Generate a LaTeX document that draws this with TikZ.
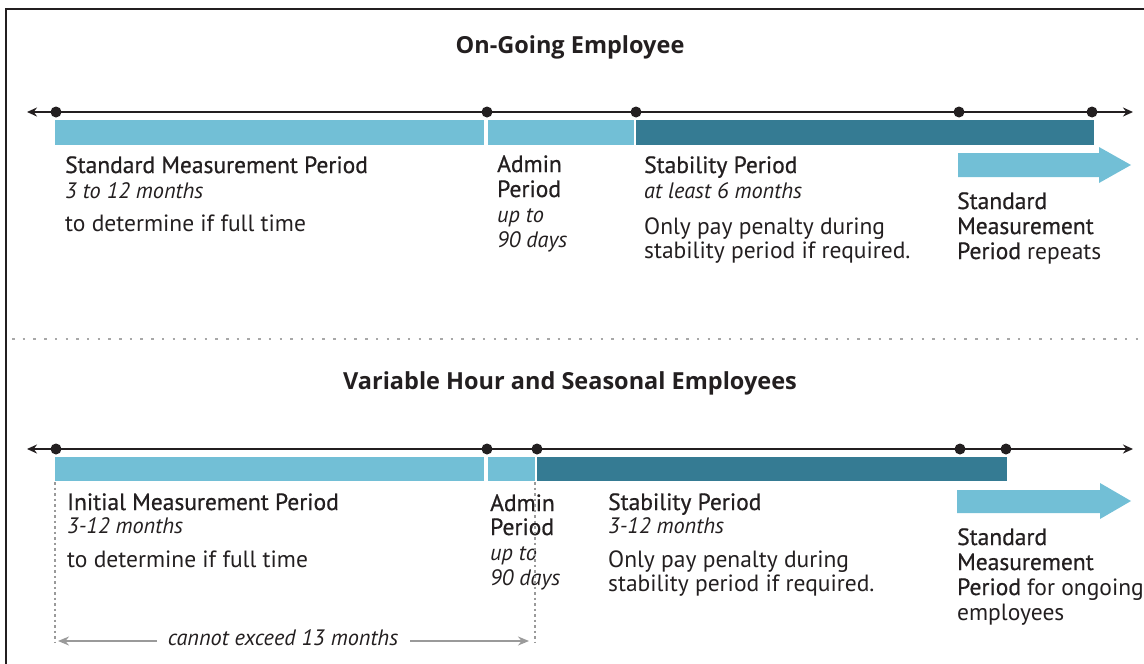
\documentclass[tikz,border=0pt]{standalone}
\usepackage{fontspec}
\setmainfont{PT Sans}
\newfontfamily\titlefont{Open Sans}
\newfontfamily\semib[FakeBold=0.7]{PT Sans}
\usetikzlibrary{arrows.meta}
\definecolor{lightbar}{HTML}{72BFD6}
\definecolor{darkbar}{HTML}{357B93}
\definecolor{ink}{HTML}{231F20}
\definecolor{greyline}{HTML}{9A9A9A}
\definecolor{dotgrey}{HTML}{A8A8A8}
\begin{document}
\begin{tikzpicture}[x=1pt,y=-1pt,
  lbl/.style={anchor=base west, inner sep=0pt, font=\fontsize{23.5}{28}\selectfont, text=ink},
  hlbl/.style={lbl, font=\semib\fontsize{23.5}{28}\selectfont},
  ilbl/.style={lbl, font=\fontsize{22.3}{28}\selectfont\itshape},
  ttl/.style={anchor=base, inner sep=0pt, font=\titlefont\fontsize{23.5}{26}\selectfont\bfseries, text=ink},
  tline/.style={draw=ink, line width=1.8pt, {Stealth[length=10pt,width=9pt]}-{Stealth[length=10pt,width=9pt]}},
  tdot/.style={circle, fill=ink, inner sep=0pt, minimum size=11pt},
  guide/.style={draw=greyline, line width=1.1pt, dash pattern=on 2.5pt off 3pt},
  span/.style={draw=greyline, line width=1.6pt, -{Stealth[length=11pt,width=9pt]}},
]
\useasboundingbox (0,0) rectangle (1144,664);
% frame
\draw[line width=2.5pt, ink] (6,664) -- (6,9) -- (1144,9);

% ---------------- top section ----------------
\node[ttl] (title1) at (570,53) {On-Going Employee};

\fill[lightbar] (55,120) rectangle (484,145);
\fill[lightbar] (488,120) rectangle (634,145);
\fill[darkbar] (636,120) rectangle (1094,145);
\fill[lightbar] (958,153) -- (1099,153) -- (1099,147) -- (1131,165) -- (1099,183) -- (1099,177) -- (958,177) -- cycle;

\coordinate (a1) at (27,112);
\coordinate (b1) at (1133,112);
\draw[tline] (a1) -- (b1);
\node[tdot] (d11) at (56,112) {};
\node[tdot] (d12) at (487,112) {};
\node[tdot] (d13) at (636,112) {};
\node[tdot] (d14) at (959,112) {};
\node[tdot] (d15) at (1092,112) {};

\node[hlbl] (s1a) at (65,173) {Standard Measurement Period};
\node[ilbl] (s1b) at (65,198) {3 to 12 months};
\node[lbl] (s1c) at (65,231) {to determine if full time};

\node[hlbl] (a1a) at (497,172) {Admin};
\node[hlbl] (a1b) at (497,197) {Period};
\node[ilbl] (a1c) at (497,222) {up to};
\node[ilbl] (a1d) at (497,247) {90 days};

\node[hlbl] (p1a) at (644,173) {Stability Period};
\node[ilbl] (p1b) at (644,198) {at least 6 months};
\node[lbl] (p1c) at (644,234) {Only pay penalty during};
\node[lbl] (p1d) at (644,258) {stability period if required.};

\node[hlbl] (r1a) at (957,209) {Standard};
\node[hlbl] (r1b) at (957,234) {Measurement};
\node[lbl] (r1c) at (957,259) {{\semib Period} repeats};

% separator
\draw[dotgrey, line width=2.5pt, dash pattern=on 2.5pt off 8.2pt] (12,339) -- (1144,339);

% ---------------- bottom section ----------------
\node[ttl] (title2) at (570,389) {Variable Hour and Seasonal Employees};

\fill[lightbar] (55,457) rectangle (484,481);
\fill[lightbar] (488,457) rectangle (535,481);
\fill[darkbar] (537,457) rectangle (1007,481);
\fill[lightbar] (957,490) -- (1100,490) -- (1100,483) -- (1131,501) -- (1100,519) -- (1100,513) -- (957,513) -- cycle;

\coordinate (a2) at (27,449);
\coordinate (b2) at (1133,449);
\draw[tline] (a2) -- (b2);
\node[tdot] (d21) at (56,449) {};
\node[tdot] (d22) at (487,449) {};
\node[tdot] (d23) at (537,449) {};
\node[tdot] (d24) at (960,449) {};
\node[tdot] (d25) at (1006,449) {};

\node[hlbl] (s2a) at (67,510) {Initial Measurement Period};
\node[ilbl] (s2b) at (67,533) {3-12 months};
\node[lbl] (s2c) at (67,567) {to determine if full time};

\node[hlbl] (a2a) at (490,511) {Admin};
\node[hlbl] (a2b) at (490,535) {Period};
\node[ilbl] (a2c) at (490,560) {up to};
\node[ilbl] (a2d) at (490,585) {90 days};

\node[hlbl] (p2a) at (608,510) {Stability Period};
\node[ilbl] (p2b) at (608,533) {3-12 months};
\node[lbl] (p2c) at (608,567) {Only pay penalty during};
\node[lbl] (p2d) at (608,591) {stability period if required.};

\node[hlbl] (r2a) at (957,545) {Standard};
\node[hlbl] (r2b) at (957,570) {Measurement};
\node[lbl] (r2c) at (957,595) {{\semib Period} for ongoing};
\node[lbl] (r2d) at (957,620) {employees};

% guides and span
\coordinate (g1t) at (55,482);
\coordinate (g1b) at (55,642);
\coordinate (g2t) at (535,482);
\coordinate (g2b) at (535,642);
\draw[guide] (g1t) -- (g1b);
\draw[guide] (g2t) -- (g2b);
\node[ilbl, anchor=base] (span) at (283,645) {cannot exceed 13 months};
\coordinate (spL) at (58,641);
\coordinate (spR) at (529,641);
\coordinate (spLs) at (157,641);
\coordinate (spRs) at (410,641);
\draw[span] (spLs) -- (spL);
\draw[span] (spRs) -- (spR);
\end{tikzpicture}
\end{document}
